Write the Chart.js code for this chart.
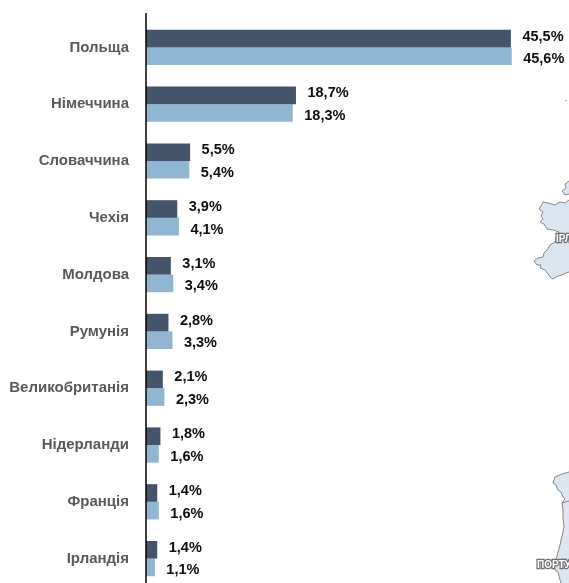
<!DOCTYPE html>
<html>
<head>
<meta charset="utf-8">
<style>
  html, body { margin: 0; padding: 0; background: #fff; overflow: hidden; }
  #wrap { width: 569px; height: 600px; }
</style>
<script src="https://cdn.jsdelivr.net/npm/chart.js@4"></script>
</head>
<body>
<div id="wrap"><canvas id="barChart" width="569" height="600"></canvas></div>
<script>
// Data for the chart
var countries = ['Польща', 'Німеччина', 'Словаччина', 'Чехія', 'Молдова', 'Румунія', 'Великобританія', 'Нідерланди', 'Франція', 'Ірландія'];
var seriesDark = [45.5, 18.7, 5.5, 3.9, 3.1, 2.8, 2.1, 1.8, 1.4, 1.4];
var seriesLight = [45.6, 18.3, 5.4, 4.1, 3.4, 3.3, 2.3, 1.6, 1.6, 1.1];

// Scraps of the map behind the chart, pixel outlines of the backdrop only
var irelandIsle = [[569,181],[565,184],[566,188],[562,191],[565,195],[569,194]];
var irelandMain = [[569,200],[565,203],[560,202],[555,205],[548,203],[543,202],[541,206],[539,209],[543,212],[541,216],[543,219],[540,222],[544,224],[547,229],[553,230],[559,232],[556,238],[555,242],[550,245],[547,250],[544,253],[543,257],[538,258],[534,261],[537,265],[541,265],[540,268],[545,270],[548,274],[550,277],[553,279],[558,276],[562,275],[566,273],[569,272]];
var portugalCoast = [[569,472],[562,474],[555,477],[553,483],[556,485],[558,490],[561,492],[563,497],[565,499],[562,503],[563,510],[563,518],[564,526],[563,532],[561,540],[560,545],[558,552],[556,560],[554,568],[556,571],[558,572],[560,580],[563,590],[569,590]];

function drawShape(ctx, pts) {
  ctx.beginPath();
  pts.forEach(function (p, i) {
    if (i === 0) ctx.moveTo(p[0], p[1]); else ctx.lineTo(p[0], p[1]);
  });
  ctx.fillStyle = '#dce6f0';
  ctx.fill();
  ctx.strokeStyle = '#85888c';
  ctx.lineWidth = 1;
  ctx.stroke();
}

function mapLabel(ctx, text, x, y) {
  ctx.font = 'bold 10px "Liberation Sans"';
  ctx.textBaseline = 'middle';
  ctx.lineWidth = 2.5;
  ctx.strokeStyle = '#6f6f6f';
  ctx.strokeText(text, x, y);
  ctx.fillStyle = '#fff';
  ctx.fillText(text, x, y);
}

var mapBackdrop = {
  id: 'mapBackdrop',
  beforeDraw: function (chart) {
    var ctx = chart.ctx;
    ctx.save();
    drawShape(ctx, irelandIsle);
    drawShape(ctx, irelandMain);
    drawShape(ctx, portugalCoast);
    ctx.strokeStyle = '#85888c';
    ctx.beginPath();
    ctx.moveTo(562, 503);
    ctx.lineTo(569, 501);
    ctx.stroke();
    ctx.fillStyle = '#a0a0a0';
    ctx.fillRect(565, 100, 2, 1);
    mapLabel(ctx, 'ІРЛАНДІЯ', 556, 239);
    mapLabel(ctx, 'ПОРТУГАЛІЯ', 537, 565);
    ctx.restore();
  }
};

// Value labels next to the bars, decimal comma as in the picture
var valueLabels = {
  id: 'valueLabels',
  afterDatasetsDraw: function (chart) {
    var ctx = chart.ctx;
    ctx.save();
    ctx.font = 'bold 14.5px "Liberation Sans"';
    ctx.fillStyle = '#0d0d0d';
    ctx.textBaseline = 'middle';
    chart.data.datasets.forEach(function (ds, i) {
      chart.getDatasetMeta(i).data.forEach(function (bar, j) {
        var dy = i === 0 ? -2 : 3;
        ctx.fillText(ds.data[j].toFixed(1).replace('.', ',') + '%', bar.x + 11.5, bar.y + dy);
      });
    });
    ctx.restore();
  }
};

// Vertical axis line runs a little above the first category
var axisLine = {
  id: 'axisLine',
  afterDraw: function (chart) {
    var ctx = chart.ctx, x = chart.chartArea.left;
    ctx.save();
    ctx.strokeStyle = '#000';
    ctx.lineWidth = 1.5;
    ctx.beginPath();
    ctx.moveTo(x, chart.chartArea.top - 6);
    ctx.lineTo(x, chart.chartArea.bottom);
    ctx.stroke();
    ctx.restore();
  }
};

var config = {
  type: 'bar',
  data: {
    labels: countries,
    datasets: [
      { data: seriesDark, backgroundColor: '#44546a', categoryPercentage: 0.62, barPercentage: 1 },
      { data: seriesLight, backgroundColor: '#91b6d1', categoryPercentage: 0.62, barPercentage: 1 }
    ]
  },
  plugins: [mapBackdrop, valueLabels, axisLine],
  options: {
    indexAxis: 'y',
    responsive: false,
    animation: false,
    layout: { padding: { top: 19, right: 22, bottom: 13, left: 0 }, autoPadding: false },
    plugins: { legend: { display: false }, tooltip: { enabled: false } },
    scales: {
      x: { display: false, min: 0, max: 50 },
      y: {
        afterFit: function (scale) {
          scale.width = 146;
          scale.paddingTop = 0;
          scale.paddingBottom = 0;
        },
        grid: { display: false, drawTicks: false },
        border: { display: false },
        ticks: {
          padding: 17,
          autoSkip: false,
          color: '#595959',
          font: { family: '"Liberation Sans"', size: 15, weight: 'bold' }
        }
      }
    }
  }
};

var myChart = new Chart(document.getElementById('barChart'), config);
</script>
</body>
</html>
